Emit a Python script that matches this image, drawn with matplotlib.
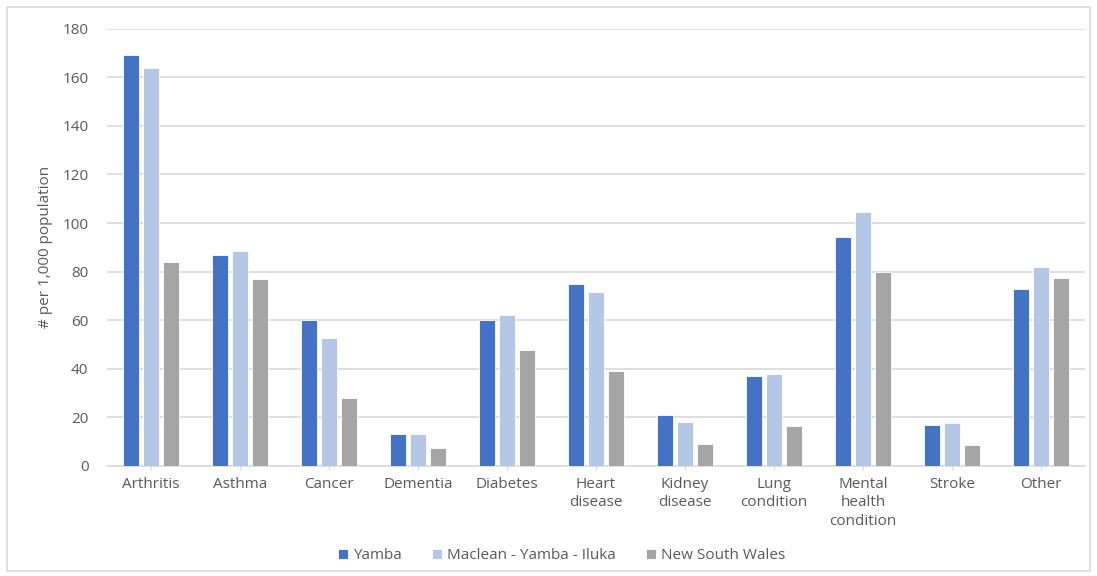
import numpy as np
import matplotlib
matplotlib.use("Agg")
import matplotlib.pyplot as plt
from matplotlib.patches import Rectangle

categories = ["Arthritis", "Asthma", "Cancer", "Dementia", "Diabetes",
              "Heart\ndisease", "Kidney\ndisease", "Lung\ncondition",
              "Mental\nhealth\ncondition", "Stroke", "Other"]
series_names = ["Yamba", "Maclean - Yamba - Iluka", "New South Wales"]
yamba = [169, 87, 60, 13, 60, 75, 20.9, 37, 94.2, 16.8, 73]
maclean = [164, 88.6, 52.8, 13, 62.1, 71.6, 18.1, 37.8, 104.7, 17.7, 82]
nsw = [83.8, 77.1, 28, 7.5, 47.9, 39, 9.1, 16.3, 79.9, 8.7, 77.5]
colors = ["#4472C4", "#B4C7E7", "#A5A5A5"]

plt.rcParams["font.family"] = ["Open Sans", "DejaVu Sans"]
text_color = "#595959"
grid_color = "#D9D9D9"
fs = 11

fig = plt.figure(figsize=(10.97, 5.76), dpi=100)
fig.patches.append(Rectangle((0.006, 0.008), 0.988, 0.979, transform=fig.transFigure,
                             fill=False, edgecolor=grid_color, linewidth=1.2))
ax = fig.add_axes([0.0971, 0.1910, 0.8924, 0.7592])

x = np.arange(len(categories))
step = 0.225
width = 0.178
for i, (vals, name) in enumerate(zip([yamba, maclean, nsw], series_names)):
    ax.bar(x + (i - 1) * step, vals, width, color=colors[i], label=name,
           edgecolor="white", linewidth=0.6, zorder=3)

ax.set_xlim(-0.5, len(categories) - 0.5)
ax.set_ylim(0, 180)
ax.set_yticks(range(0, 181, 20))
ax.set_xticks(x)
ax.set_xticklabels(categories, fontsize=fs, color=text_color, linespacing=1.3)
ax.tick_params(axis="y", length=0, labelsize=fs, labelcolor=text_color, pad=13)
ax.tick_params(axis="x", length=3, color=grid_color, pad=5)
ax.grid(axis="y", color=grid_color, linewidth=1.2, zorder=0)
for s in ["top", "right", "left"]:
    ax.spines[s].set_visible(False)
ax.spines["bottom"].set_color(grid_color)
ax.spines["bottom"].set_linewidth(1.2)
ax.set_ylabel("# per 1,000 population", fontsize=fs, color=text_color, labelpad=7)

fig.legend(loc="center", bbox_to_anchor=(0.512, 0.035), ncol=3, frameon=False,
           fontsize=fs, labelcolor=text_color, handlelength=0.65, handleheight=0.65,
           handletextpad=0.3, columnspacing=2.0)

fig.savefig("out.png", dpi=100)
